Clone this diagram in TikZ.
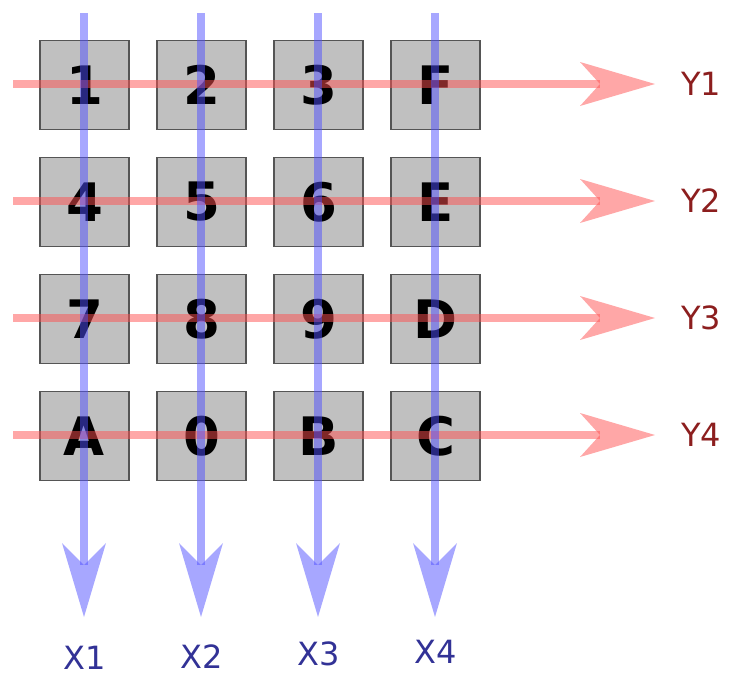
\documentclass[tikz,border=0pt]{standalone}
\usepackage{fontspec}
\setmainfont{DejaVu Sans}
\usetikzlibrary{arrows.meta}
\definecolor{keyfill}{RGB}{192,192,192}
\definecolor{keyedge}{RGB}{85,85,85}
\definecolor{rowred}{RGB}{255,80,80}
\definecolor{colblue}{RGB}{80,80,255}
\definecolor{rowtext}{RGB}{140,30,30}
\definecolor{coltext}{RGB}{50,50,150}
\begin{document}
\begin{tikzpicture}[x=1pt,y=-1pt,
        key/.style={draw=keyedge,fill=keyfill,line width=1.2pt,minimum size=89pt,inner sep=0pt,font=\fontsize{53}{53}\selectfont\bfseries},
        rowline/.style={draw=rowred,line width=8pt,draw opacity=0.5,fill opacity=0.5,-{Stealth[length=75pt,width=44pt,inset=20pt,line width=0pt,fill=rowred]}},
        colline/.style={draw=colblue,line width=8pt,draw opacity=0.5,fill opacity=0.5,-{Stealth[length=74pt,width=44pt,inset=22pt,line width=0pt,fill=colblue]}},
        rowlabel/.style={text=rowtext,font=\fontsize{32}{32}\selectfont},
        collabel/.style={text=coltext,font=\fontsize{32}{32}\selectfont}]
        \useasboundingbox (0,0) rectangle (742,688);
        % keypad
        \foreach \k [count=\i from 0] in {1,2,3,F,4,5,6,E,7,8,9,D,A,0,B,C} {
                \pgfmathtruncatemacro\r{div(\i,4)+1}
                \pgfmathtruncatemacro\c{mod(\i,4)+1}
                \node[key] (k\r\c) at ({84.5+117*(\c-1)},{85+117*(\r-1)}) {\k};
        }
        % rows
        \foreach \r in {1,...,4} {
                \coordinate (ys\r) at (13,{84+117*(\r-1)});
                \coordinate (ye\r) at (655,{84+117*(\r-1)});
                \node[rowlabel] (y\r) at (701,{84+117*(\r-1)}) {Y\r};
                \draw[rowline] (ys\r) -- (ye\r);
        }
        % columns
        \foreach \c/\ly in {1/658,2/657,3/654,4/652} {
                \coordinate (xs\c) at ({84+117*(\c-1)},13);
                \coordinate (xe\c) at ({84+117*(\c-1)},617);
                \node[collabel] (x\c) at ({85+117*(\c-1)},\ly) {X\c};
                \draw[colline] (xs\c) -- (xe\c);
        }
\end{tikzpicture}
\end{document}
